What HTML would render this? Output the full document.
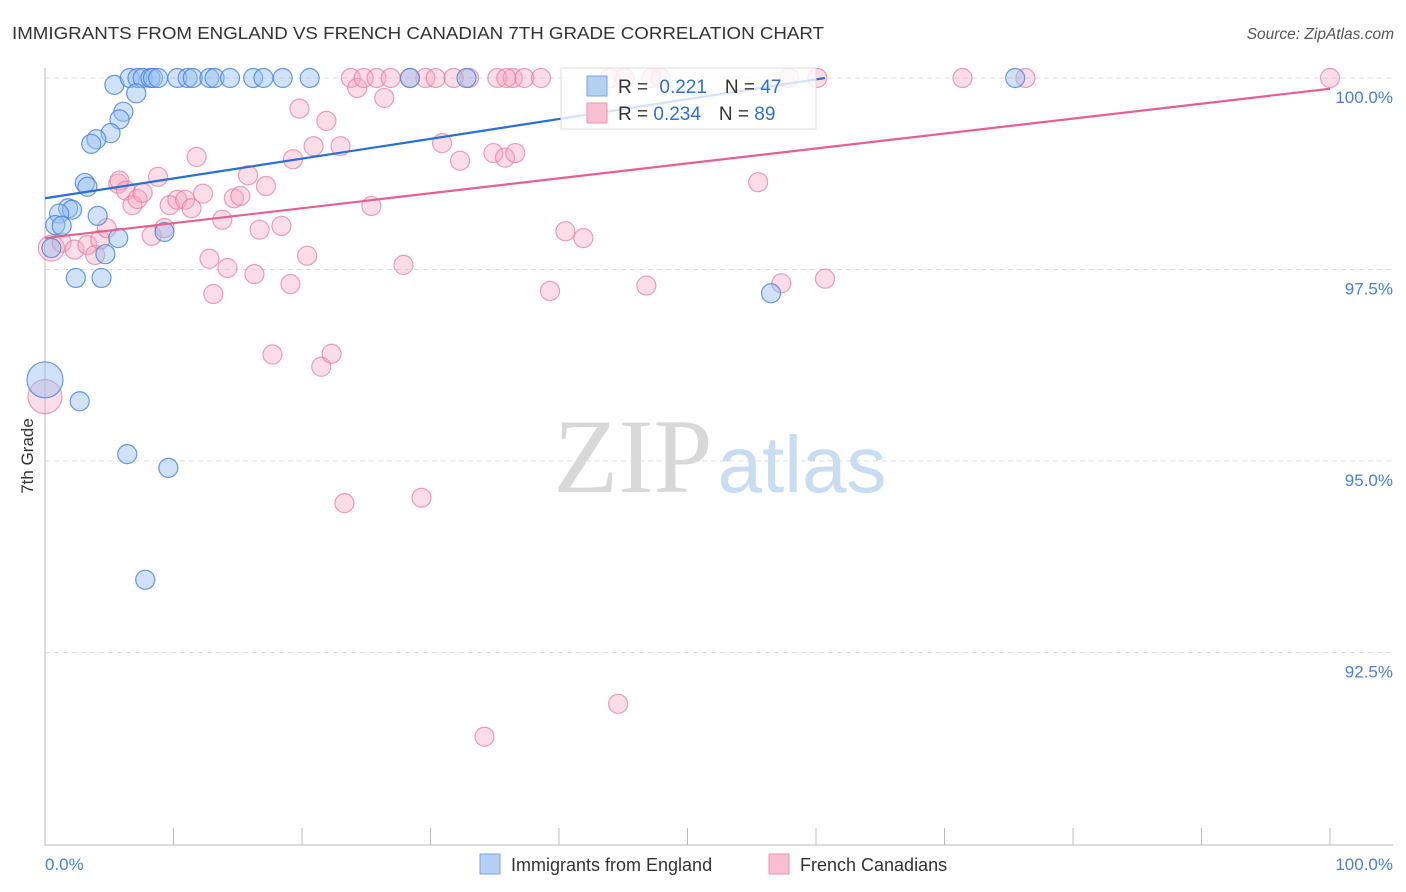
<!DOCTYPE html>
<html><head><meta charset="utf-8"><style>
body{margin:0;background:#fff;font-family:"Liberation Sans",sans-serif;}
#c{position:relative;width:1406px;height:892px;overflow:hidden}
</style></head><body>
<div id="c">
<svg width="1406" height="892" id="svg" style="position:absolute;left:0;top:0">
<text x="12" y="39" font-size="17.5" fill="#333" textLength="812" lengthAdjust="spacingAndGlyphs">IMMIGRANTS FROM ENGLAND VS FRENCH CANADIAN 7TH GRADE CORRELATION CHART</text>
<text x="1394" y="39" font-size="15.5" fill="#555" text-anchor="end" font-style="italic">Source: ZipAtlas.com</text>
<text x="0" y="0" transform="translate(33,456) rotate(-90)" font-size="17" fill="#333" text-anchor="middle">7th Grade</text>
<g>
<text x="633" y="492" font-size="106" font-family="Liberation Serif,serif" fill="#d8d8d8" text-anchor="middle">ZIP</text>
<text x="802" y="492" font-size="80" fill="#c8dcf2" text-anchor="middle">atlas</text>
</g>
<g id="grid"></g><g id="axes"></g><g id="pts"></g><g id="lines"></g>
<g>
<rect x="561" y="68" width="255" height="61" fill="#fff" fill-opacity="0.8" stroke="#ddd"/>
<rect x="587" y="76" width="20" height="20" fill="#b3cff2" stroke="#7aa6e0"/>
<rect x="587" y="103" width="20" height="20" fill="#f7bfd1" stroke="#ea93b0"/>
<text x="618" y="93" font-size="19" fill="#333">R = <tspan fill="#2f6fd0" dx="6">0.221</tspan><tspan fill="#333" dx="18">N = </tspan><tspan fill="#2f6fd0">47</tspan></text>
<text x="618" y="120" font-size="19" fill="#333">R = <tspan fill="#2f6fd0">0.234</tspan><tspan fill="#333" dx="18">N = </tspan><tspan fill="#2f6fd0">89</tspan></text>
</g>
<text x="45" y="870" font-size="17" fill="#4a7fd6">0.0%</text>
<text x="1393" y="870" font-size="17" fill="#4a7fd6" text-anchor="end">100.0%</text>
<g>
<rect x="480" y="854" width="20" height="20" fill="#b3cff2" stroke="#7aa6e0"/>
<text x="511" y="871" font-size="18" fill="#333">Immigrants from England</text>
<rect x="769" y="854" width="20" height="20" fill="#f7bfd1" stroke="#ea93b0"/>
<text x="800" y="871" font-size="18" fill="#333">French Canadians</text>
</g>
</svg>
</div>
<script>
const yTicks=[100,97.5,95,92.5];
const yTickLabels=["100.0%","97.5%","95.0%","92.5%"];
const xTicks=[0,10,20,30,40,50,60,70,80,90,100];
const englandX=[5.4,6.6,7.2,7.6,8.2,8.4,8.8,10.3,11.1,11.5,12.8,13.2,14.4,16.2,17.0,18.5,20.6,28.4,32.8,75.5,7.1,6.1,5.8,5.1,4.0,3.6,3.1,3.3,1.8,2.1,4.1,1.1,0.8,1.3,5.7,9.3,4.7,0.5,2.4,4.4,56.5,0,2.7,6.4,9.6,7.8];
const englandY=[99.91,100,100,100,100,100,100,100,100,100,100,100,100,100,100,100,100,100,100,100,99.80,99.56,99.46,99.28,99.20,99.14,98.63,98.58,98.30,98.28,98.20,98.23,98.08,98.07,97.91,97.99,97.70,97.78,97.39,97.39,97.19,96.06,95.78,95.09,94.91,93.45];
const englandBig=[41];
const frenchX=[0.5,0,1.3,2.3,3.3,3.9,4.3,4.8,5.7,5.8,6.3,6.8,7.2,7.6,8.3,8.8,9.3,9.7,10.3,10.9,11.4,11.8,12.3,12.8,13.1,13.8,14.2,14.7,15.2,15.8,16.3,16.7,17.2,17.7,18.4,19.1,19.3,19.8,20.4,20.9,21.5,21.9,22.3,23.0,23.3,23.8,24.3,24.8,25.4,25.8,26.4,26.9,27.9,29.3,29.6,30.4,30.9,32.3,33.0,34.2,35.2,34.9,35.8,36.6,36.4,37.3,38.6,39.3,40.5,41.9,44.6,46.8,47.2,47.9,55.5,57.3,57.9,60.1,60.7,71.4,76.3,100,28.4,31.8,35.9,44.0,45.1];
const frenchY=[97.78,95.84,97.85,97.76,97.82,97.69,97.89,98.04,98.62,98.66,98.53,98.34,98.42,98.50,97.94,98.71,98.04,98.34,98.41,98.41,98.30,98.97,98.49,97.64,97.18,98.15,97.52,98.43,98.46,98.73,97.44,98.02,98.59,96.39,98.07,97.31,98.94,99.60,97.68,99.11,96.23,99.44,96.40,99.11,94.45,100,99.87,100,98.33,100,99.74,100,97.56,94.52,100,100,99.15,98.92,100,91.40,100,99.02,98.96,99.02,100,100,100,97.22,98.00,97.91,91.83,97.29,100,100,98.64,97.32,100,100,97.38,100,100,100,100,100,100,100,100];
const frenchBig=[1,0];
const englandTrend=[[0,98.43],[60.7,100]];
const frenchTrend=[[0,97.91],[100,99.86]];
const NS="http://www.w3.org/2000/svg";
const sx=v=>45+v*12.85;
const sy=v=>78+(100-v)*76.6;
function mk(t,a,p){const e=document.createElementNS(NS,t);for(const k in a)e.setAttribute(k,a[k]);document.getElementById(p).appendChild(e);return e;}
yTicks.forEach((t,i)=>{
 const g=mk('line',{x1:45,x2:1393,y1:sy(t),y2:sy(t),stroke:'#ddd','stroke-dasharray':'5,4'},'grid');
 
 
 const l=mk('text',{x:1393,y:sy(t)+25,'font-size':17,fill:'#4a7fd6','text-anchor':'end'},'axes');
 l.textContent=yTickLabels[i];
 
 
});
const ya=mk('line',{x1:45,x2:45,y1:68,y2:846,stroke:'#bbb'},'axes');


const xa=mk('line',{x1:45,x2:1393,y1:845,y2:845,stroke:'#bbb'},'axes');


xTicks.forEach(t=>{
 const k=mk('line',{x1:sx(t),x2:sx(t),y1:828,y2:845,stroke:'#bbb'},'axes');
 
 
});
function pts(X,Y,big,fill,stroke,name){
 X.forEach((x,i)=>{
  const r=big[0]===i?(name==='england-point'?18:17):(big[1]===i?13:9.5);
  const c=mk('circle',{cx:sx(x),cy:sy(Y[i]),r:r,fill:fill,stroke:stroke,'stroke-width':1.2},'pts');
  
  
 });
}
pts(frenchX,frenchY,frenchBig,'rgba(245,165,192,0.38)','rgba(228,120,158,0.7)','french-point');
pts(englandX,englandY,englandBig,'rgba(150,190,240,0.45)','rgba(70,130,215,0.8)','england-point');
const bl=mk('line',{x1:sx(englandTrend[0][0]),y1:sy(englandTrend[0][1]),x2:sx(englandTrend[1][0]),y2:sy(englandTrend[1][1]),stroke:'#2a6fd6','stroke-width':2.2},'lines');


const pl=mk('line',{x1:sx(frenchTrend[0][0]),y1:sy(frenchTrend[0][1]),x2:sx(frenchTrend[1][0]),y2:sy(frenchTrend[1][1]),stroke:'#e5608e','stroke-width':2.2},'lines');


</script>
</body></html>
